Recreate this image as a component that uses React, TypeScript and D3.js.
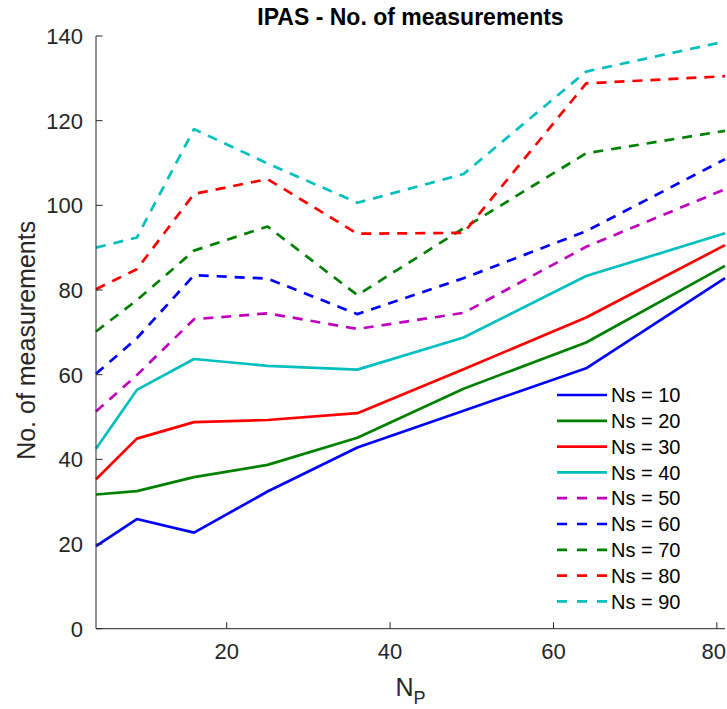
import React from 'react';
import * as d3 from 'd3';

const np = [4, 9, 16, 25, 36, 49, 64, 81];
const ns10 = [19.5, 25.9, 22.7, 32.4, 42.8, 51.5, 61.5, 82.8];
const ns20 = [31.7, 32.5, 35.8, 38.7, 45.1, 56.7, 67.6, 85.7];
const ns30 = [35.3, 44.9, 48.8, 49.3, 50.9, 61.3, 73.5, 90.6];
const ns40 = [42.5, 56.4, 63.7, 62.1, 61.2, 68.8, 83.3, 93.4];
const ns50 = [51.3, 59.9, 73.1, 74.5, 70.8, 74.6, 90.2, 103.8];
const ns60 = [60.2, 68.6, 83.5, 82.7, 74.3, 82.8, 93.9, 110.9];
const ns70 = [70.2, 77.6, 89.3, 95.0, 78.8, 94.6, 112.3, 117.6];
const ns80 = [80.2, 84.9, 102.7, 106.2, 93.3, 93.5, 128.8, 130.5];
const ns90 = [90.0, 92.4, 118.0, 109.9, 100.6, 107.4, 131.6, 138.7];

const seriesLabels = ['Ns = 10', 'Ns = 20', 'Ns = 30', 'Ns = 40', 'Ns = 50', 'Ns = 60', 'Ns = 70', 'Ns = 80', 'Ns = 90'];
const seriesValues = [ns10, ns20, ns30, ns40, ns50, ns60, ns70, ns80, ns90];
const seriesColors = ['#0000ff', '#008000', '#ff0000', '#00bfbf', '#bf00bf', '#0000ff', '#008000', '#ff0000', '#00bfbf'];
const seriesDashed = [false, false, false, false, true, true, true, true, true];

const xTicks = [20, 40, 60, 80];
const yTicks = [0, 20, 40, 60, 80, 100, 120, 140];

const title = 'IPAS - No. of measurements';
const yLabel = 'No. of measurements';

const W = 727;
const H = 709;
const left = 96;
const right = 725;
const top = 36;
const bottom = 628.7;
const axisColor = '#262626';
const font = '"Liberation Sans", Arial, Helvetica, sans-serif';

export default function App() {
  const x = d3.scaleLinear().domain([4, 81]).range([left, right]);
  const y = d3.scaleLinear().domain([0, 140]).range([bottom, top]);
  const line = d3
    .line<number>()
    .x((_, i) => x(np[i]))
    .y((d) => y(d));

  const legX1 = 557;
  const legX2 = 607;
  const legTextX = 611;
  const legY0 = 395;
  const legStep = 25.8;
  const tickFont = 22;

  return (
    <svg
      width={W}
      height={H}
      style={{ position: 'absolute', left: 0, top: 0, background: '#fff' }}
      fontFamily={font}
    >
      <rect x={0} y={0} width={W} height={H} fill="#fff" />
      {seriesValues.map((vals, i) => (
        <path
          key={i}
          d={line(vals) || ''}
          fill="none"
          stroke={seriesColors[i]}
          strokeWidth={2.7}
          strokeDasharray={seriesDashed[i] ? '10,8' : undefined}
          strokeLinejoin="round"
        />
      ))}
      {/* axes */}
      <line x1={left} x2={left} y1={top} y2={bottom} stroke={axisColor} strokeWidth={1} />
      <line x1={left} x2={right} y1={bottom} y2={bottom} stroke={axisColor} strokeWidth={1} />
      {yTicks.map((t) => (
        <g key={'y' + t}>
          <line x1={left} x2={left + 6.5} y1={y(t)} y2={y(t)} stroke={axisColor} strokeWidth={1} />
          <text x={83} y={y(t)} dy="0.36em" textAnchor="end" fontSize={tickFont} fill={axisColor}>
            {t}
          </text>
        </g>
      ))}
      {xTicks.map((t) => {
        const half = tickFont * 0.556;
        const cx = Math.min(x(t), W - 1 - half);
        return (
          <g key={'x' + t}>
            <line x1={x(t)} x2={x(t)} y1={bottom} y2={bottom - 6.5} stroke={axisColor} strokeWidth={1} />
            <text x={cx} y={659} textAnchor="middle" fontSize={tickFont} fill={axisColor}>
              {t}
            </text>
          </g>
        );
      })}
      {/* title */}
      <text x={(left + right) / 2} y={25} textAnchor="middle" fontSize={23} fontWeight="bold" fill="#000">
        {title}
      </text>
      {/* y label */}
      <text
        transform={`translate(35, ${(top + bottom) / 2 + 8}) rotate(-90)`}
        textAnchor="middle"
        fontSize={25}
        fill={axisColor}
      >
        {yLabel}
      </text>
      {/* x label */}
      <text x={(left + right) / 2} y={696} textAnchor="middle" fontSize={25} fill={axisColor}>
        N
        <tspan fontSize={18} dy={8}>P</tspan>
      </text>
      {/* legend */}
      {seriesLabels.map((lab, i) => {
        const ly = legY0 + i * legStep;
        return (
          <g key={'l' + i}>
            <line
              x1={legX1}
              x2={legX2}
              y1={ly}
              y2={ly}
              stroke={seriesColors[i]}
              strokeWidth={2.7}
              strokeDasharray={seriesDashed[i] ? '10,10' : undefined}
            />
            <text x={legTextX} y={ly} dy="0.36em" fontSize={20} fill="#000">
              {lab}
            </text>
          </g>
        );
      })}
    </svg>
  );
}
